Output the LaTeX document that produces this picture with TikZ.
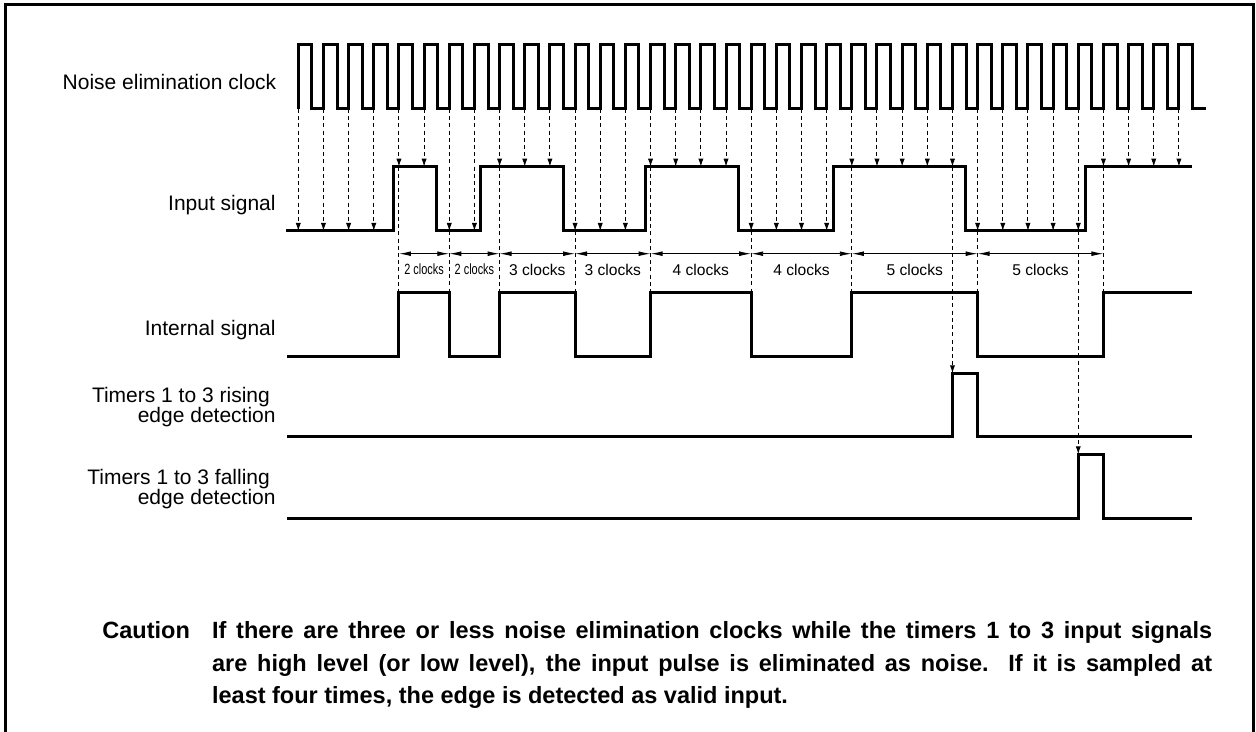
\documentclass[tikz,border=0pt]{standalone}
\usepackage{fontspec}
\setmainfont{Liberation Sans}
\usepackage{graphicx}
\usetikzlibrary{arrows.meta}

\tikzset{
  wave/.style={line width=1.5pt},
  samp/.style={line width=0.5pt, dash pattern=on 2pt off 1.6pt,
    -{Latex[length=4pt,width=2.6pt]}},
  guide/.style={line width=0.5pt, dash pattern=on 2pt off 1.6pt},
  span/.style={line width=0.45pt,
    {Latex[length=6pt,width=2.4pt]}-{Latex[length=6pt,width=2.4pt]}},
  siglabel/.style={font=\fontsize{10.5}{10}\selectfont, align=right,
    anchor=base east, inner sep=0pt},
  clklabel/.style={font=\fontsize{7.8}{8}\selectfont, inner sep=0pt},
  note/.style={font=\bfseries\fontsize{11.75}{16.35}\selectfont, inner sep=0pt,
    anchor=base west},
}
\newcommand\squeezed[1]{\scalebox{0.7}[0.95]{#1}}
% sample instant k of the noise elimination clock
\newcommand\tk[1]{298.3+25.16*#1}

\begin{document}
\begin{tikzpicture}[x=0.5pt, y=-0.5pt]
	\useasboundingbox (0,0) rectangle (1256,732);
	\draw [line width=1.5pt] (5,732) -- (5,5) -- (1253.5,5) -- (1253.5,732);

	% levels
	\coordinate (hi) at (0,166.7);
	\coordinate (lo) at (0,231);
	\coordinate (ih) at (0,292.7);
	\coordinate (il) at (0,356.7);
	\coordinate (dm) at (0,253.7);
	\coordinate (lb) at (0,269.5);
	\coordinate (rt) at (0,373.3);
	\coordinate (rb) at (0,436.7);
	\coordinate (ft) at (0,454.3);
	\coordinate (fb) at (0,518.3);

	\foreach \k in {0,...,35}
		\coordinate (c\k) at ({\tk{\k}},109);

	% labels
	\node [siglabel] (lclk) at (276.7,89.3) {Noise elimination clock};
	\node [siglabel] (lin) at (276,210.7) {Input signal};
	\node [siglabel] (lint) at (276,335.7) {Internal signal};
	\node [siglabel] (lrise) at (276,422.3) {Timers 1 to 3 rising\hspace*{2.9pt}\\edge detection};
	\node [siglabel] (lfall) at (276,504.3) {Timers 1 to 3 falling\hspace*{2.9pt}\\edge detection};

	% noise elimination clock
	\draw [wave] (c0) \foreach \k in {0,...,35} {
		-- (c\k) -- ++(0,-64.7) -- ++(13.6,0) -- ++(0,64.7)
	} -- (1206,109);

	% sampling of the input signal
	\foreach \k/\lv in {0/lo,1/lo,2/lo,3/lo,4/hi,5/hi,6/lo,7/lo,8/hi,9/hi,
			10/hi,11/lo,12/lo,13/lo,14/hi,15/hi,16/hi,17/hi,18/lo,19/lo,
			20/lo,21/lo,22/hi,23/hi,24/hi,25/hi,26/hi,27/lo,28/lo,29/lo,
			30/lo,31/lo,32/hi,33/hi,34/hi,35/hi}
		\draw [samp] (c\k) -- (c\k |- \lv);

	\foreach \k/\lv in {4/hi,6/lo,8/hi,11/lo,14/hi,18/lo,22/hi,27/lo,32/hi}
		\draw [guide] (c\k |- \lv) -- (c\k |- ih);
	\draw [samp] (c26 |- hi) -- (c26 |- rt);
	\draw [samp] (c31 |- lo) -- (c31 |- ft);

	% input signal
	\draw [wave] (286,231) -| (393.3,166.7) -| (436.7,231) -| (480.7,166.7)
		-| (563.3,231) -| (645,166.7) -| (738.3,231) -| (833.3,166.7)
		-| (965.7,231) -| (1085.7,166.7) -- (1191.7,166.7);

	% widths counted in clocks
	\foreach \a/\b/\t in {4/6/\squeezed{2 clocks},6/8/\squeezed{2 clocks},
			8/11/3 clocks,11/14/3 clocks,14/18/4 clocks,18/22/4 clocks,
			22/27/5 clocks,27/32/5 clocks} {
		\draw [span] (c\a |- dm) -- (c\b |- dm);
		\path (c\a |- lb) -- node [clklabel] {\t} (c\b |- lb);
	}

	% internal signal
	\draw [wave] (287,356.7) -| (c4 |- ih) -| (c6 |- il) -| (c8 |- ih)
		-| (c11 |- il) -| (c14 |- ih) -| (c18 |- il) -| (c22 |- ih)
		-| (c27 |- il) -| (c32 |- ih) -- (1192,292.7);

	% edge detection
	\draw [wave] (287,436.7) -| (c26 |- rt) -| (c27 |- rb) -- (1192,436.7);
	\draw [wave] (287,518.3) -| (c31 |- ft) -| (c32 |- fb) -- (1192,518.3);

	% caution
	\node [note] (caution) at (102,638.5) {Caution};
	\node [note, text width=500pt, align=justify] (text) at (211.7,638.5)
		{If there are three or less noise elimination clocks while the timers 1 to 3 input signals\linebreak
		are high level (or low level), the input pulse is eliminated as noise.\ \ If it is sampled at\linebreak
		least four times, the edge is detected as valid input.};
\end{tikzpicture}
\end{document}
